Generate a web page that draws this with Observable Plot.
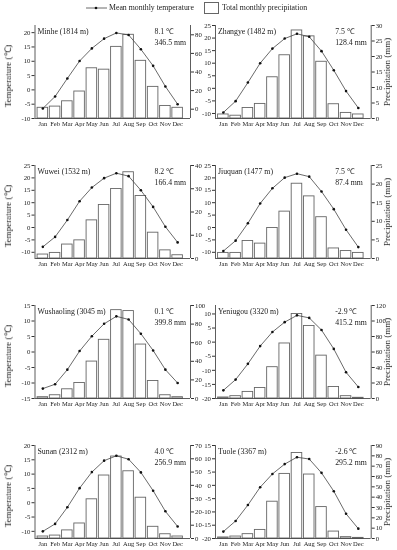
<!DOCTYPE html>
<html>
<head>
<meta charset="utf-8">
<script src="https://cdn.jsdelivr.net/npm/d3@7"></script>
<script src="https://cdn.jsdelivr.net/npm/@observablehq/plot@0.6"></script>
<style>
  html, body { margin: 0; padding: 0; background: #fff; }
  #fig { position: relative; width: 397px; height: 550px; background: #fff; font-family: "Liberation Serif", "Times New Roman", serif; color: #222; overflow: hidden; }
  #fig svg { overflow: visible; will-change: transform; }
  .abs { position: absolute; }
  .legtext { font-size: 7.8px; line-height: 10px; white-space: nowrap; will-change: transform; }
  .ytitle { position: absolute; writing-mode: vertical-rl; text-orientation: sideways; font-size: 9px; line-height: 10px; white-space: nowrap; transform: translateY(-50%) rotate(180deg); will-change: transform; }
</style>
</head>
<body>
<div id="fig">
  <svg class="abs" style="left:86px;top:3px" width="22" height="10">
    <line x1="0" y1="5" x2="21" y2="5" stroke="#444" stroke-width="0.8"></line>
    <circle cx="10" cy="5" r="1.3" fill="#111"></circle>
  </svg>
  <div class="abs legtext" style="left:109px;top:3px">Mean monthly temperature</div>
  <div class="abs" style="left:204px;top:2px;width:13px;height:10px;border:1px solid #666;background:#fff"></div>
  <div class="abs legtext" style="left:222px;top:3px">Total monthly precipitation</div>
</div>
<script>
const months = ["Jan","Feb","Mar","Apr","May","Jun","Jul","Aug","Sep","Oct","Nov","Dec"];
const stations = ["Minhe","Zhangye","Wuwei","Jiuquan","Wushaoling","Yeniugou","Sunan","Tuole"];
const elevations = [1814, 1482, 1532, 1477, 3045, 3320, 2312, 3367];
const meanTempLabels = ["8.1","7.5","8.2","7.5","0.1","-2.9","4.0","-2.6"];
const totalPrecipLabels = ["346.5","128.4","166.4","87.4","399.8","415.2","256.9","295.2"];

// Mean monthly temperature (°C)
const tempMinhe      = [-6.5, -2.3, 4.0, 10.1, 14.5, 17.9, 19.9, 19.2, 14.2, 8.4, 1.2, -5.0];
const tempZhangye    = [-9.6, -5.1, 2.3, 10.0, 15.8, 19.8, 21.7, 20.5, 14.8, 7.2, -1.1, -7.8];
const tempWuwei      = [-7.8, -3.8, 3.0, 10.6, 16.1, 19.9, 21.9, 20.7, 15.0, 8.3, 0.3, -6.0];
const tempJiuquan    = [-9.5, -5.3, 1.7, 9.7, 15.8, 20.1, 21.7, 20.5, 14.5, 7.4, -0.9, -7.9];
const tempWushaoling = [-11.8, -10.4, -5.7, 0.3, 5.1, 9.1, 11.5, 10.5, 5.9, 0.5, -5.7, -10.0];
const tempYeniugou   = [-17.1, -13.3, -7.7, -1.4, 3.6, 7.1, 9.5, 8.6, 4.3, -2.4, -10.7, -15.9];
const tempSunan      = [-10.0, -7.4, -1.6, 5.1, 10.7, 14.7, 16.4, 15.2, 10.6, 4.2, -3.0, -8.3];
const tempTuole      = [-17.4, -13.4, -7.4, -0.7, 4.3, 8.0, 10.6, 9.9, 4.7, -2.2, -10.7, -16.3];

// Total monthly precipitation (mm)
const precMinhe      = [1.5, 2.8, 8.5, 19, 44, 42.5, 67, 80, 52, 24, 3.5, 1.5];
const precZhangye    = [1.3, 0.9, 3.4, 4.7, 13.3, 20.4, 28.4, 26.5, 18.3, 4.6, 1.8, 1.3];
const precWuwei      = [1.7, 2.4, 6.0, 7.8, 16.4, 23.0, 29.9, 37.1, 26.9, 11.1, 3.5, 1.4];
const precJiuquan    = [1.5, 1.5, 4.7, 4.0, 8.2, 12.6, 20.1, 16.7, 11.1, 2.7, 2.0, 1.5];
const precWushaoling = [1.4, 3.5, 9.9, 16.7, 39.7, 63.1, 95, 94, 58, 18.8, 3.5, 1.4];
const precYeniugou   = [1.3, 3.0, 8.5, 13.6, 40.4, 71, 109, 93.6, 55.3, 14.9, 3.0, 0.9];
const precSunan      = [1.5, 2.2, 6.1, 11.3, 29.5, 47.4, 61.7, 50.6, 30.7, 8.8, 3.2, 1.5];
const precTuole      = [1.0, 1.9, 4.2, 8.3, 35.6, 62.5, 82.7, 61.9, 30.4, 6.7, 1.3, 0.6];

const temps = [tempMinhe, tempZhangye, tempWuwei, tempJiuquan, tempWushaoling, tempYeniugou, tempSunan, tempTuole];
const precs = [precMinhe, precZhangye, precWuwei, precJiuquan, precWushaoling, precYeniugou, precSunan, precTuole];

// Axis ranges (left temperature, right precipitation) and right tick step
const tempDomains = [[-10, 22.5], [-12, 25], [-12.5, 25], [-12.5, 25], [-15, 15], [-20, 13], [-12.5, 20], [-20, 15]];
const precDomains = [[-10, 90], [0, 30], [0, 40], [0, 25], [0, 100], [0, 120], [0, 70], [0, 90]];
const precSteps = [20, 5, 10, 5, 20, 20, 10, 10];

const fig = document.getElementById("fig");
const rowTops = [25, 165, 305, 445];
const frameH = 93;
const xDomain = [0.36, 13.05];
const font = "Liberation Serif, Times New Roman, serif";

function makePanel(i) {
  const col = i % 2, row = Math.floor(i / 2);
  const [t0, t1] = tempDomains[i];
  const [p0, p1] = precDomains[i];
  const toT = p => t0 + (p - p0) * (t1 - t0) / (p1 - p0);
  const fromT = t => p0 + (t - t0) * (p1 - p0) / (t1 - t0);
  const data = months.map((m, k) => ({k: k + 1, m, t: temps[i][k], p: precs[i][k]}));
  const tTicks = d3.range(Math.ceil(t0 / 5) * 5, t1 + 1e-9, 5);
  const pTicks = d3.range(Math.max(0, Math.ceil(p0 / precSteps[i]) * precSteps[i]), p1 + 1e-9, precSteps[i]);

  const mt = 15, mb = 12;
  const cfg = col === 0
    ? {left: 0, width: 215, ml: 34.5, mr: 25}
    : {left: 185, width: 212, ml: 30, mr: 26.3};

  const marks = [
    Plot.rectY(data, {x1: d => d.k - 0.43, x2: d => d.k + 0.43, y1: () => t0, y2: d => toT(d.p), fill: "white", stroke: "#666", strokeWidth: 0.9}),
    Plot.line(data, {x: "k", y: "t", stroke: "#444", strokeWidth: 0.8}),
    Plot.dot(data, {x: "k", y: "t", r: 1.3, fill: "#111", stroke: "none"}),
    Plot.ruleY([t0], {stroke: "#333", strokeWidth: 0.8}),
    Plot.ruleX([xDomain[0]], {stroke: "#333", strokeWidth: 0.8}),
    Plot.ruleX([xDomain[1]], {stroke: "#333", strokeWidth: 0.8}),
    Plot.axisY(tTicks, {anchor: "left", label: null, tickSize: 3, tickPadding: 1.5, tickFormat: d => String(d), fontSize: 6.8, stroke: "#333", fill: "#222"}),
    Plot.axisY(pTicks.map(toT), {anchor: "right", label: null, tickSize: 3, tickPadding: 1.5, tickFormat: t => String(Math.round(fromT(t))), fontSize: 6.8, stroke: "#333", fill: "#222"}),
    Plot.axisX(d3.range(1, 13), {anchor: "bottom", label: null, tickSize: 0, tickPadding: 3, tickFormat: k => months[k - 1], fontSize: 6.5, fill: "#222"}),
    Plot.text([`${stations[i]} (${elevations[i]} m)`], {frameAnchor: "top-left", textAnchor: "start", lineAnchor: "top", dx: 2.5, dy: 3, fontSize: 7.8, fill: "#222"}),
    Plot.text([`${meanTempLabels[i]} \u2103`], {frameAnchor: "top-right", textAnchor: "start", lineAnchor: "top", dx: -36, dy: 3, fontSize: 7.8, fill: "#222"}),
    Plot.text([`${totalPrecipLabels[i]} mm`], {frameAnchor: "top-right", textAnchor: "start", lineAnchor: "top", dx: -36, dy: 14, fontSize: 7.8, fill: "#222"})
  ];

  const svg = Plot.plot({
    width: cfg.width,
    height: frameH + mt + mb,
    marginLeft: cfg.ml,
    marginRight: cfg.mr,
    marginTop: mt,
    marginBottom: mb,
    style: {fontFamily: font, fontSize: "6.8px", color: "#222", background: "transparent", overflow: "visible"},
    x: {domain: xDomain, axis: null},
    y: {domain: [t0, t1], axis: null},
    marks
  });
  svg.style.position = "absolute";
  svg.style.left = cfg.left + "px";
  svg.style.top = (rowTops[row] - mt) + "px";
  svg.style.maxWidth = "none";
  fig.appendChild(svg);

  // Rotated axis title beside the panel
  const title = document.createElement("div");
  title.className = "ytitle";
  const cy = rowTops[row] + frameH / 2;
  if (col === 0) {
    title.textContent = "Temperature (\u2103)";
    title.style.left = "3px";
    title.style.top = (cy + 4) + "px";
  } else {
    title.textContent = "Precipitation (mm)";
    title.style.left = "381.5px";
    title.style.top = cy + "px";
  }
  fig.appendChild(title);
}

for (let i = 0; i < 8; i++) makePanel(i);
</script>
</body>
</html>
